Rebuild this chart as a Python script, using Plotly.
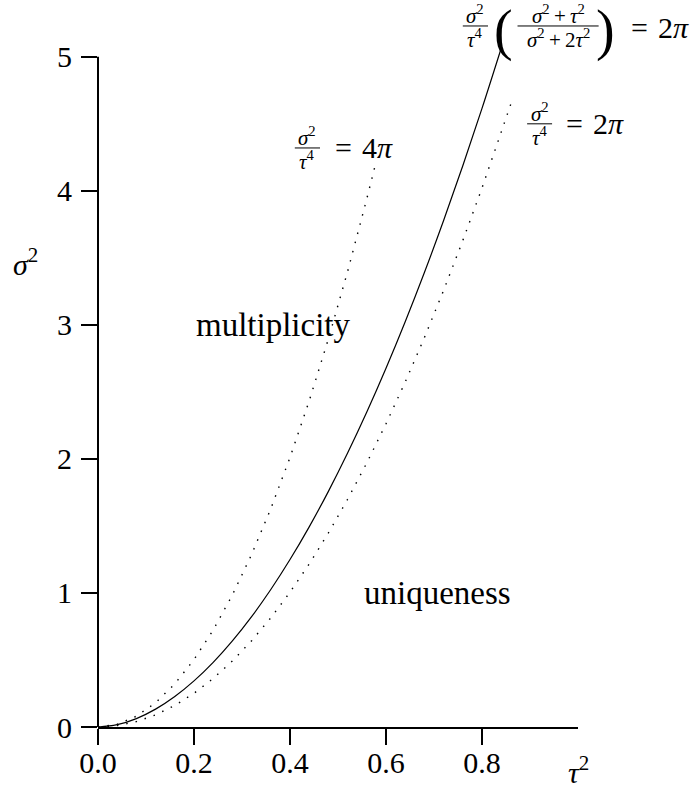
import plotly.graph_objects as go

# values (tau^2 on x, sigma^2 on y)
tau_sq = [0.0, 0.04, 0.08, 0.12, 0.16, 0.20, 0.24, 0.28, 0.32, 0.36, 0.40,
          0.44, 0.48, 0.52, 0.56, 0.60, 0.64, 0.68, 0.72, 0.76, 0.80, 0.84]
sigma_sq_exact = [0.0, 0.0171, 0.0628, 0.1333, 0.2273, 0.3438, 0.4822, 0.6422,
                  0.8235, 1.0258, 1.2492, 1.4933, 1.7581, 2.0436, 2.3496,
                  2.6762, 3.0232, 3.3907, 3.7785, 4.1867, 4.6153, 5.0642]

tau_sq_4pi = [0.0, 0.04, 0.08, 0.12, 0.16, 0.20, 0.24, 0.28, 0.32, 0.36, 0.40,
              0.44, 0.48, 0.52, 0.56, 0.577]
sigma_sq_4pi = [0.0, 0.0201, 0.0804, 0.1810, 0.3217, 0.5027, 0.7238, 0.9852,
                1.2868, 1.6286, 2.0106, 2.4329, 2.8953, 3.3980, 3.9408, 4.184]

tau_sq_2pi = [0.0, 0.04, 0.08, 0.12, 0.16, 0.20, 0.24, 0.28, 0.32, 0.36, 0.40,
              0.44, 0.48, 0.52, 0.56, 0.60, 0.64, 0.68, 0.72, 0.76, 0.80, 0.84, 0.86]
sigma_sq_2pi = [0.0, 0.0101, 0.0402, 0.0905, 0.1608, 0.2513, 0.3619, 0.4926,
                0.6434, 0.8143, 1.0053, 1.2164, 1.4476, 1.6990, 1.9704, 2.2619,
                2.5736, 2.9054, 3.2572, 3.6292, 4.0212, 4.4334, 4.6470]

x_ticks = [0.0, 0.2, 0.4, 0.6, 0.8]
y_ticks = [0, 1, 2, 3, 4, 5]

FONT = "Liberation Serif"
YMAX = 5.2  # a bit of headroom so the solid curve is not clipped

fig = go.Figure()

dotted = "1.5px,8px"
fig.add_trace(go.Scatter(x=tau_sq_4pi, y=sigma_sq_4pi, mode="lines",
                         line=dict(color="black", width=1.4, dash=dotted)))
fig.add_trace(go.Scatter(x=tau_sq_2pi, y=sigma_sq_2pi, mode="lines",
                         line=dict(color="black", width=1.4, dash=dotted)))
fig.add_trace(go.Scatter(x=tau_sq, y=sigma_sq_exact, mode="lines", line_shape="spline",
                         line=dict(color="black", width=1.2)))

sig = "<i>σ</i><sup>2</sup>"
tau2 = "<i>τ</i><sup>2</sup>"
tau4 = "<i>τ</i><sup>4</sup>"
plus = "\u2009+\u2009"
sp = "\u2004"


# positions given in (tau^2, sigma^2) units, placed on paper so they may sit outside the axes
def text(x, y, s, size, xanchor="left", yanchor="middle"):
    fig.add_annotation(x=x, y=y / YMAX, xref="paper", yref="paper", text=s,
                       showarrow=False, xanchor=xanchor, yanchor=yanchor,
                       font=dict(family=FONT, size=size, color="black"))


def frac(x0, x1, ybar, num, den, size=21):
    xc = (x0 + x1) / 2
    fig.add_shape(type="line", xref="paper", yref="paper",
                  x0=x0, x1=x1, y0=ybar / YMAX, y1=ybar / YMAX,
                  line=dict(color="black", width=1))
    fig.add_annotation(x=xc, y=ybar / YMAX, xref="paper", yref="paper", text=num,
                       showarrow=False, xanchor="center", yanchor="bottom", yshift=-4,
                       font=dict(family=FONT, size=size, color="black"))
    fig.add_annotation(x=xc, y=ybar / YMAX, xref="paper", yref="paper", text=den,
                       showarrow=False, xanchor="center", yanchor="top", yshift=3,
                       font=dict(family=FONT, size=size, color="black"))


# region labels
text(0.2, 3.0, "multiplicity", 33)
text(0.55, 1.0, "uniqueness", 33)

# sigma^2/tau^4 = 4 pi
frac(0.410, 0.4625, 4.32, sig, tau4)
text(0.490, 4.32, "=" + sp + "4<i>π</i>", 30)

# sigma^2/tau^4 = 2 pi
frac(0.894, 0.946, 4.50, sig, tau4)
text(0.970, 4.50, "=" + sp + "2<i>π</i>", 30)

# curve label at the top
frac(0.760, 0.8125, 5.23, sig, tau4)
text(0.844, 5.20, "(", 56, xanchor="center")
frac(0.874, 1.043, 5.23, sig + plus + tau2, sig + plus + "2" + tau2)
text(1.058, 5.20, ")", 56, xanchor="center")
text(1.106, 5.22, "=" + sp + "2<i>π</i>", 30)

# axis titles
text(-0.152, 3.47, sig, 30, xanchor="center")
text(1.0, -0.32, tau2, 30, xanchor="center")

# y axis line stops at 5
fig.add_shape(type="line", xref="paper", yref="paper", x0=0, x1=0, y0=0, y1=5 / YMAX,
              line=dict(color="black", width=2))

fig.update_xaxes(range=[0, 1], tickvals=x_ticks, tickformat=".1f",
                 showline=True, linecolor="black", linewidth=2,
                 ticks="outside", ticklen=16, tickwidth=2, tickcolor="black",
                 showgrid=False, zeroline=False, ticklabelstandoff=-8, automargin=False,
                 tickfont=dict(family=FONT, size=30, color="black"))
fig.update_yaxes(range=[0, YMAX], tickvals=y_ticks,
                 showline=False,
                 ticks="outside", ticklen=16, tickwidth=2, tickcolor="black",
                 showgrid=False, zeroline=False, ticklabelstandoff=3, automargin=False,
                 tickfont=dict(family=FONT, size=30, color="black"))

fig.update_layout(width=696, height=787, showlegend=False,
                  plot_bgcolor="white", paper_bgcolor="white",
                  margin=dict(l=98, r=118, t=30, b=60))

# drop the default 8px page margin so the figure fills the window
fig.write_html("out.html", config={"displayModeBar": False},
               post_script="document.body.style.margin='0';")
